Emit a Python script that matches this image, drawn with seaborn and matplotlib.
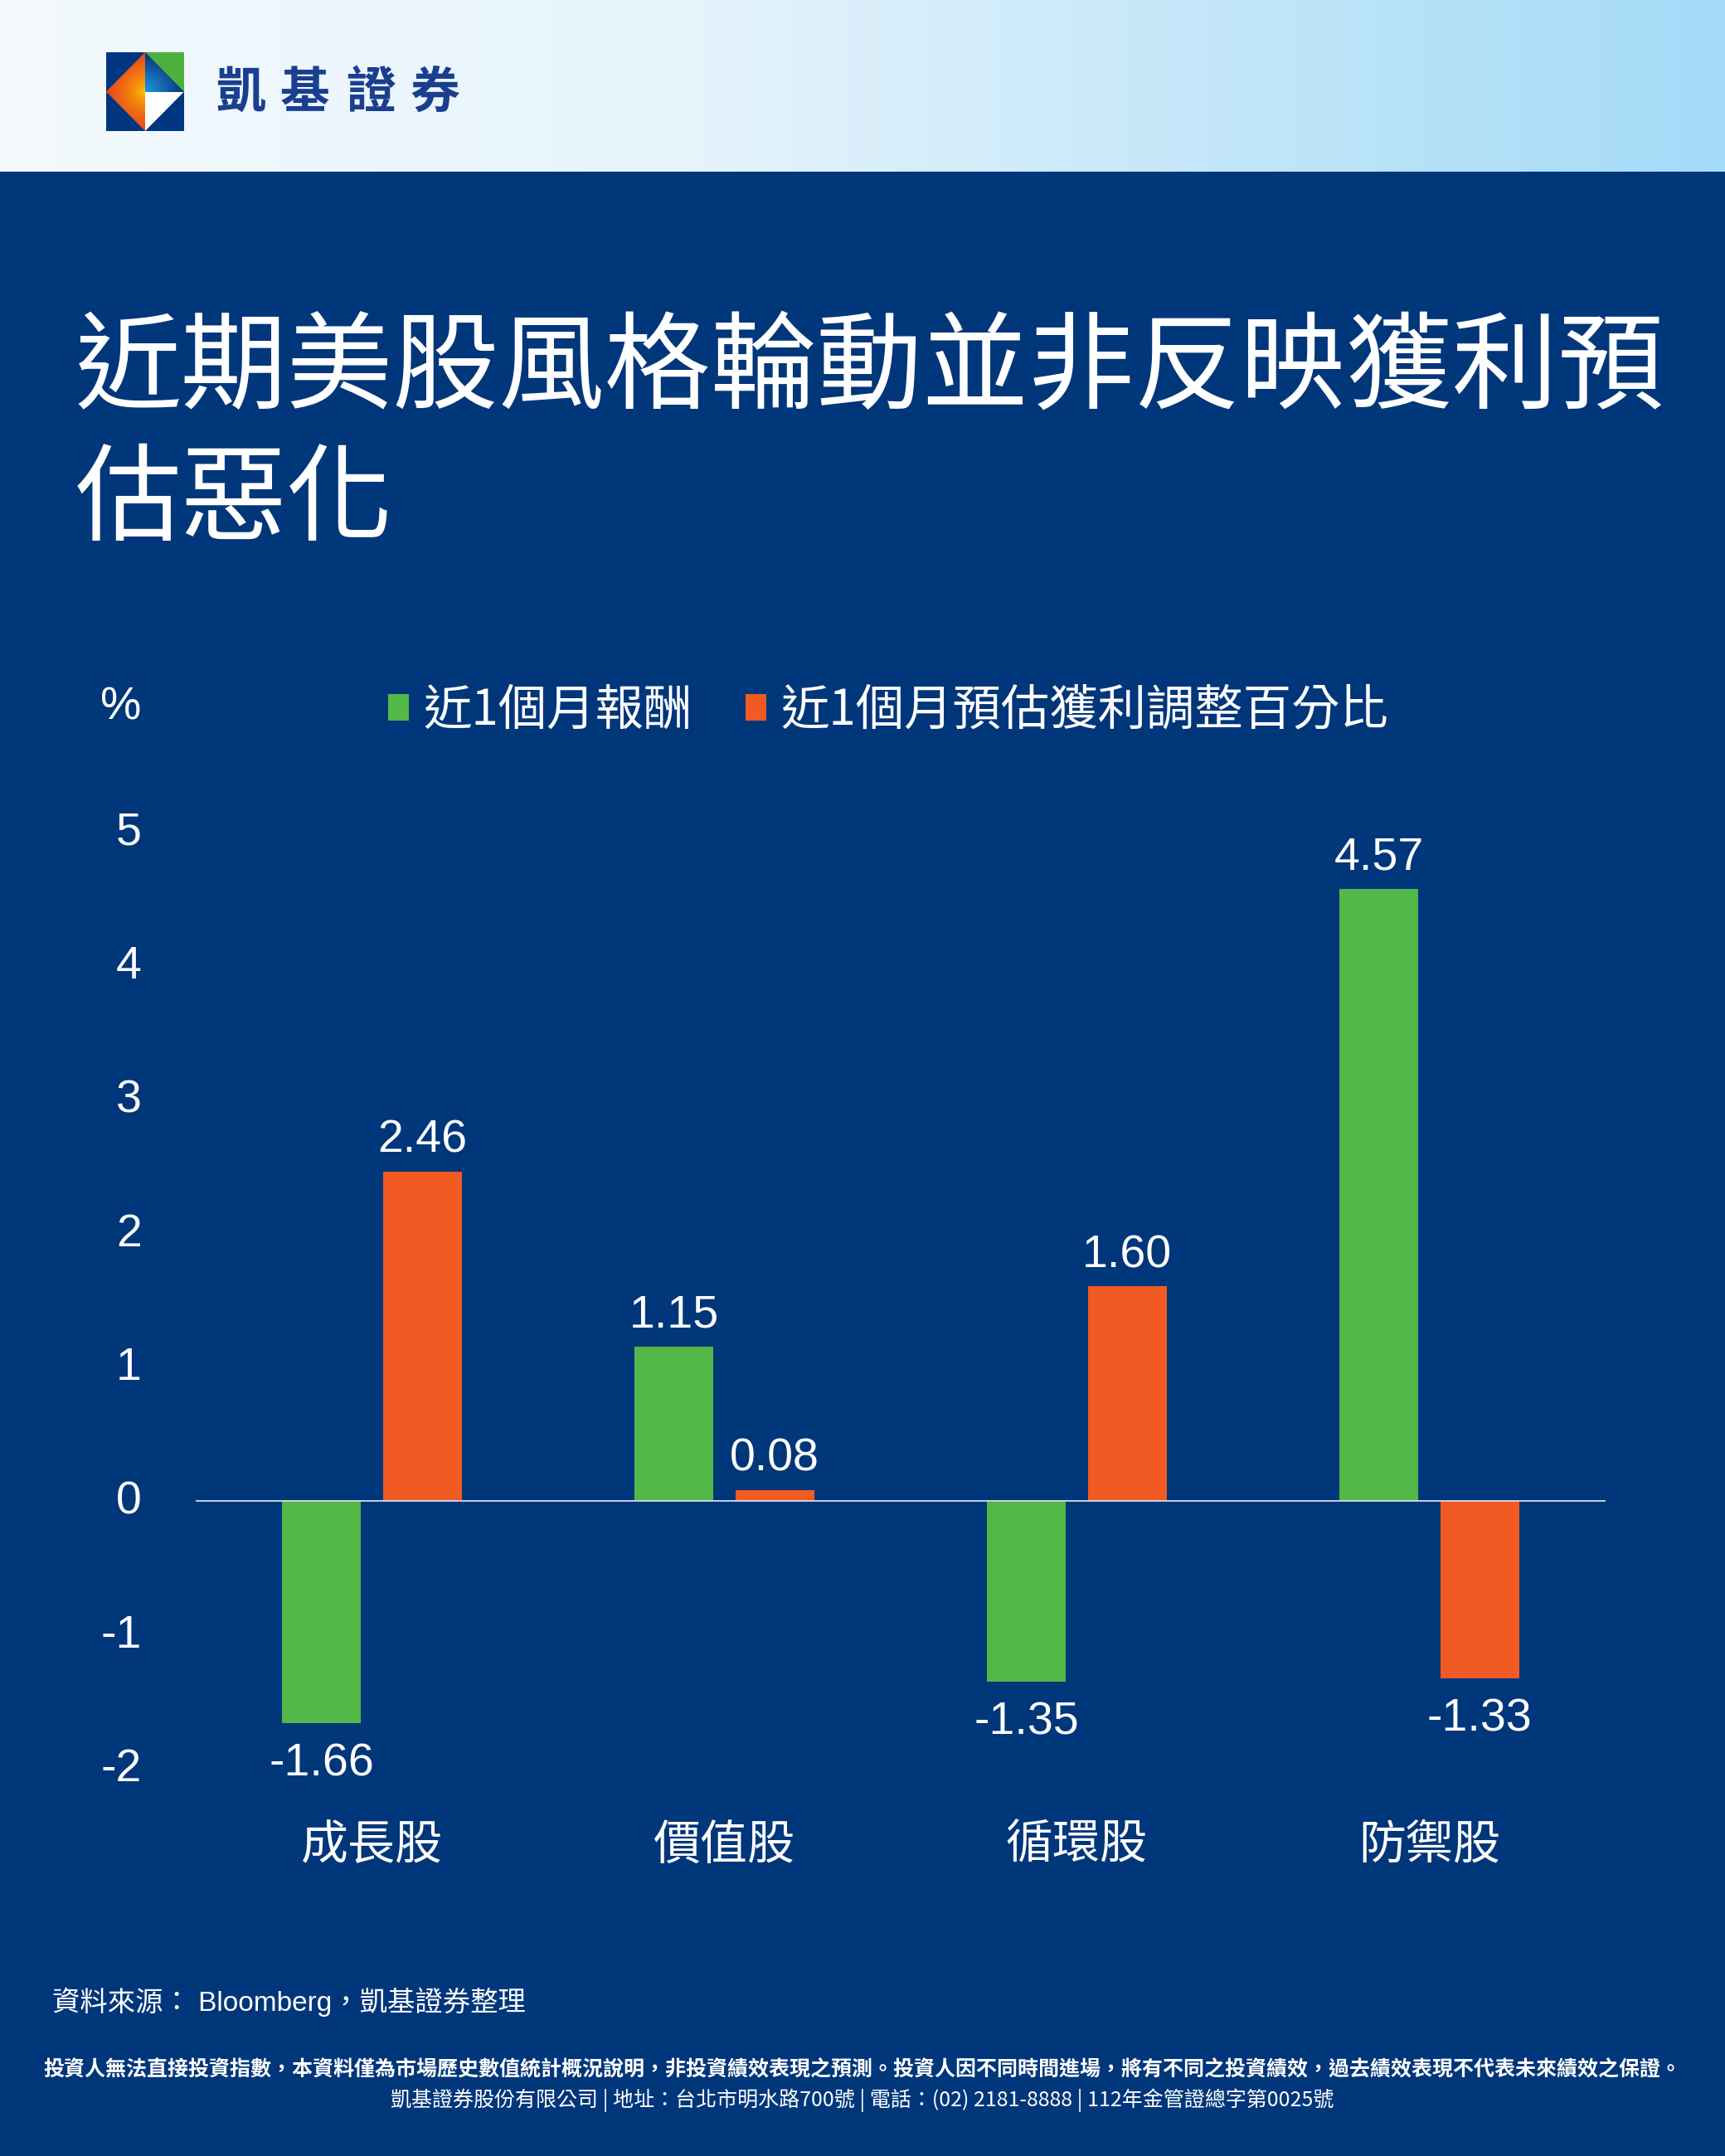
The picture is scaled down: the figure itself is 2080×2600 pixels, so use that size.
import numpy as np
import pandas as pd
import matplotlib
matplotlib.use("Agg")
import matplotlib.pyplot as plt
import matplotlib.transforms as mtransforms
from matplotlib.patches import Polygon, Rectangle
from matplotlib.colors import to_rgb
import seaborn as sns

# ---------------- data ----------------
categories = ["成長股", "價值股", "循環股", "防禦股"]
series_names = ["近1個月報酬", "近1個月預估獲利調整百分比"]
returns_1m = [-1.66, 1.15, -1.35, 4.57]
eps_revision_1m = [2.46, 0.08, 1.60, -1.33]
y_ticks = [-2, -1, 0, 1, 2, 3, 4, 5]

title_lines = ["近期美股風格輪動並非反映獲利預", "估惡化"]
brand = "凱基證券"
unit_label = "%"
source_text = "資料來源： Bloomberg，凱基證券整理"
disclaimer_1 = ("投資人無法直接投資指數，本資料僅為市場歷史數值統計概況說明，非投資績效表現之預測。"
                "投資人因不同時間進場，將有不同之投資績效，過去績效表現不代表未來績效之保證。")
disclaimer_2 = "凱基證券股份有限公司 | 地址：台北市明水路700號 | 電話：(02) 2181-8888 | 112年金管證總字第0025號"

# ---------------- style ----------------
BG = "#00367a"
GREEN = "#52b848"
ORANGE = "#f15a22"

sns.set_style("white")
plt.rcParams["font.family"] = ["Liberation Sans", "Noto Sans CJK TC", "DejaVu Sans"]
plt.rcParams["axes.unicode_minus"] = False
CJK = ["Noto Sans CJK TC", "DejaVu Sans"]

W, H = 2080, 2600
fig = plt.figure(figsize=(W / 100, H / 100), dpi=100)
fig.patch.set_facecolor(BG)

def fx(px):
    return px / W

def fy(py):
    return 1 - py / H

# ---------------- header gradient ----------------
hdr_h = 207
hax = fig.add_axes([0, fy(hdr_h), 1, hdr_h / H])
stops = [(0.0, "#f3f9fd"), (0.40, "#e6f4fc"), (0.70, "#c3e7f9"), (1.0, "#a4dbf7")]
xs = np.linspace(0, 1, 600)
cols = np.zeros((1, len(xs), 3))
for c in range(3):
    cols[0, :, c] = np.interp(xs, [s[0] for s in stops], [to_rgb(s[1])[c] for s in stops])
hax.imshow(cols, extent=(0, 1, 0, 1), aspect="auto", origin="lower")
hax.set_xlim(0, 1)
hax.set_ylim(0, 1)
hax.axis("off")

# ---------------- logo ----------------
lax = fig.add_axes([fx(128), fy(158), 94 / W, 95 / H])
lax.axis("off")
lax.add_patch(Rectangle((0, 0), 1, 1, color="#003580", lw=0, zorder=1))
lax.add_patch(Polygon([(0.5, 1), (1, 1), (1, 0.5)], closed=True, color="#4caf3e", lw=0, zorder=1))
lax.add_patch(Polygon([(0.5, 0.5), (1, 0.5), (0.5, 0)], closed=True, color="white", lw=0, zorder=1))
gx, gy = np.meshgrid(np.linspace(0, 1, 200), np.linspace(0, 1, 200))
dist = np.hypot(gx - 0.5, gy - 0.5)
c_in, c_out = np.array(to_rgb("#ffd400")), np.array(to_rgb("#e8451c"))
t = (np.clip(dist / 0.5, 0, 1) ** 0.6)[..., None]
img_o = c_in * (1 - t) + c_out * t
im_o = lax.imshow(img_o, extent=(0, 1, 0, 1), origin="lower", aspect="auto", zorder=2)
p_o = Polygon([(0.5, 1), (0, 0.5), (0.5, 0)], closed=True, transform=lax.transData)
im_o.set_clip_path(p_o)
b_in, b_out = np.array(to_rgb("#1a9be3")), np.array(to_rgb("#0b2f78"))
t2 = np.clip(dist / 0.5, 0, 1)[..., None]
img_b = b_in * (1 - t2) + b_out * t2
im_b = lax.imshow(img_b, extent=(0, 1, 0, 1), origin="lower", aspect="auto", zorder=2)
p_b = Polygon([(0.5, 1), (0.5, 0.5), (1, 0.5)], closed=True, transform=lax.transData)
im_b.set_clip_path(p_b)
lax.set_xlim(0, 1)
lax.set_ylim(0, 1)

for ch, cx in zip(brand, [290, 368, 447, 524]):
    fig.text(fx(cx), fy(113), ch, ha="center", va="center", fontsize=43,
             color="#1b3f8f", family=CJK, fontweight="bold")

# ---------------- title ----------------
for line, cy in zip(title_lines, [447, 606]):
    fig.text(fx(91), fy(cy), line, ha="left", va="center", fontsize=92,
             color="white", family=CJK, fontweight="light")

# ---------------- chart ----------------
df = pd.DataFrame({
    "category": categories * 2,
    "series": [series_names[0]] * len(categories) + [series_names[1]] * len(categories),
    "value": returns_1m + eps_revision_1m,
})

ax = fig.add_axes([fx(236), fy(2132.5), (1936 - 236) / W, (2132.5 - 1002.7) / H])
ax.set_facecolor("none")
sns.barplot(data=df, x="category", y="value", hue="series", order=categories,
            hue_order=series_names, palette=[GREEN, ORANGE], width=0.57, gap=0.215,
            saturation=1, errorbar=None, ax=ax, legend=True, linewidth=0, edgecolor="none")

for cont in ax.containers:
    vals = cont.datavalues
    ax.bar_label(cont, labels=[f"{v:.2f}" if v >= 0 else "" for v in vals],
                 padding=8, fontsize=40, color="white")
    ax.bar_label(cont, labels=[f"{v:.2f}" if v < 0 else "" for v in vals],
                 padding=17, fontsize=40, color="white")

ax.axhline(0, color="#d8dde6", lw=1.3, zorder=3)
ax.set_xlim(-0.5, 3.5)
ax.set_ylim(-2, 5)
ax.set_yticks(y_ticks)
ax.set_yticklabels([str(v) for v in y_ticks])
ax.tick_params(axis="y", length=0, pad=47, labelsize=40, labelcolor="white")
ax.tick_params(axis="x", length=0, pad=46, labelsize=41, labelcolor="white")
shift_up = mtransforms.ScaledTranslation(0, 3 / 72, fig.dpi_scale_trans)
for lab in ax.get_yticklabels():
    lab.set_transform(lab.get_transform() + shift_up)
for lab in ax.get_xticklabels():
    lab.set_family(CJK)
ax.set_xlabel("")
ax.set_ylabel("")
for s in ax.spines.values():
    s.set_visible(False)

handles, labels = ax.get_legend_handles_labels()
ax.get_legend().remove()
leg = fig.legend(handles, labels, loc="center left", bbox_to_anchor=(fx(468), fy(857)),
                 bbox_transform=fig.transFigure, ncol=2, frameon=False,
                 prop={"family": CJK, "size": 42}, handlelength=0.43, handleheight=0.48,
                 handletextpad=0.3, columnspacing=1.1, borderpad=0, borderaxespad=0)
for txt in leg.get_texts():
    txt.set_color("white")

fig.text(fx(146), fy(853), unit_label, ha="center", va="center", fontsize=40, color="white")

# ---------------- footer ----------------
fig.text(fx(63), fy(2414), source_text, ha="left", va="center", fontsize=24, color="white")
fig.text(0.5, fy(2496), disclaimer_1, ha="center", va="center", fontsize=18,
         color="white", family=CJK, fontweight="bold")
fig.text(0.5, fy(2533), disclaimer_2, ha="center", va="center", fontsize=18,
         color="white", family=CJK)

fig.savefig("out.png", dpi=100, facecolor=BG)
